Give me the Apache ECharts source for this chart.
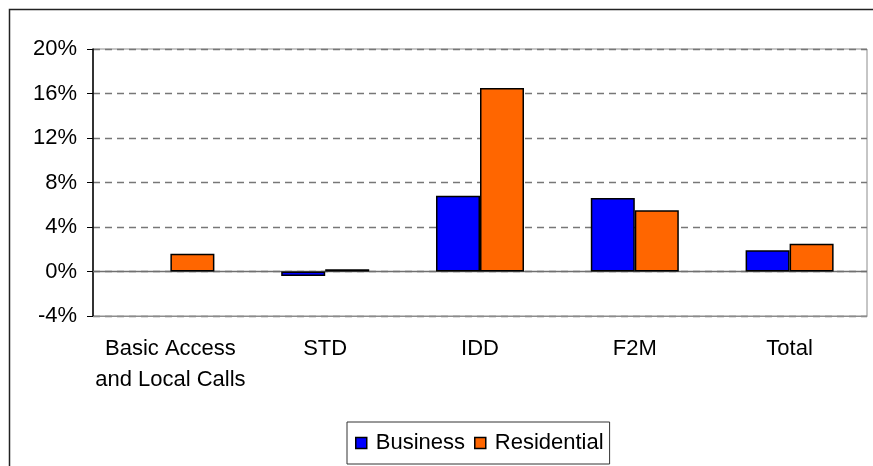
<!DOCTYPE html>
<html>
<head>
<meta charset="utf-8">
<script src="https://cdn.jsdelivr.net/npm/echarts@6/dist/echarts.min.js"></script>
<style>
html, body { margin: 0; padding: 0; background: #fff; }
#main { width: 873px; height: 466px; }
</style>
</head>
<body>
<div id="main"></div>
<script>
// chart data
const categories = ['Basic Access\nand Local Calls', 'STD', 'IDD', 'F2M', 'Total']
const business = [null, -0.4, 6.8, 6.6, 1.9]
const residential = [1.6, 0.2, 16.5, 5.5, 2.5]
const yMin = -4
const yMax = 20
const yStep = 4

const font = 'Liberation Sans, Arial, sans-serif'

const myChart = echarts.init(document.getElementById('main'))

myChart.setOption({
    animation: false,
    backgroundColor: '#fff',
    graphic: [
        {
            // outer chart frame (clipped at right / bottom)
            type: 'rect',
            shape: { x: 9.5, y: 9.5, width: 900, height: 500 },
            style: { fill: 'none', stroke: '#222', lineWidth: 1.5 },
            silent: true
        }
    ],
    legend: {
        left: 347,
        top: 422,
        padding: [10, 6, 10, 8],
        itemWidth: 11,
        itemHeight: 11,
        itemGap: 9,
        borderColor: '#333',
        borderWidth: 1,
        icon: 'rect',
        itemStyle: { borderColor: '#000', borderWidth: 1.5 },
        textStyle: { fontFamily: font, fontSize: 22, color: '#000', padding: [0, 0, 0, 4] },
        data: ['Business', 'Residential']
    },
    grid: {
        left: 93,
        right: 6,
        top: 49,
        bottom: 150,
        show: true,
        borderColor: '#8c8c8c',
        borderWidth: 1
    },
    xAxis: {
        type: 'category',
        data: categories,
        axisLine: { onZero: false, lineStyle: { color: '#8c8c8c' } },
        axisTick: { show: false },
        axisLabel: {
            margin: 17,
            interval: 0,
            fontFamily: font,
            fontSize: 22,
            lineHeight: 31,
            color: '#000'
        }
    },
    yAxis: {
        type: 'value',
        min: yMin,
        max: yMax,
        interval: yStep,
        axisLine: { show: true, lineStyle: { color: '#000', width: 1.5 } },
        axisTick: { show: true, length: 6, lineStyle: { color: '#000' } },
        axisLabel: {
            margin: 16,
            formatter: '{value}%',
            fontFamily: font,
            fontSize: 22,
            color: '#000'
        },
        splitLine: {
            lineStyle: { color: '#777', type: [7, 5], width: 1.4 }
        }
    },
    series: [
        {
            name: 'Business',
            type: 'bar',
            data: business,
            barWidth: 44,
            barGap: '0%',
            itemStyle: { color: '#0000ff', borderColor: '#000', borderWidth: 1.5 },
            markLine: {
                silent: true,
                symbol: 'none',
                label: { show: false },
                lineStyle: { color: '#707070', type: 'solid', width: 1.4 },
                data: [{ yAxis: 0 }],
                z: 1
            }
        },
        {
            name: 'Residential',
            type: 'bar',
            data: residential,
            barWidth: 44,
            barGap: '0%',
            itemStyle: { color: '#ff6600', borderColor: '#000', borderWidth: 1.5 }
        }
    ]
})
</script>
</body>
</html>
